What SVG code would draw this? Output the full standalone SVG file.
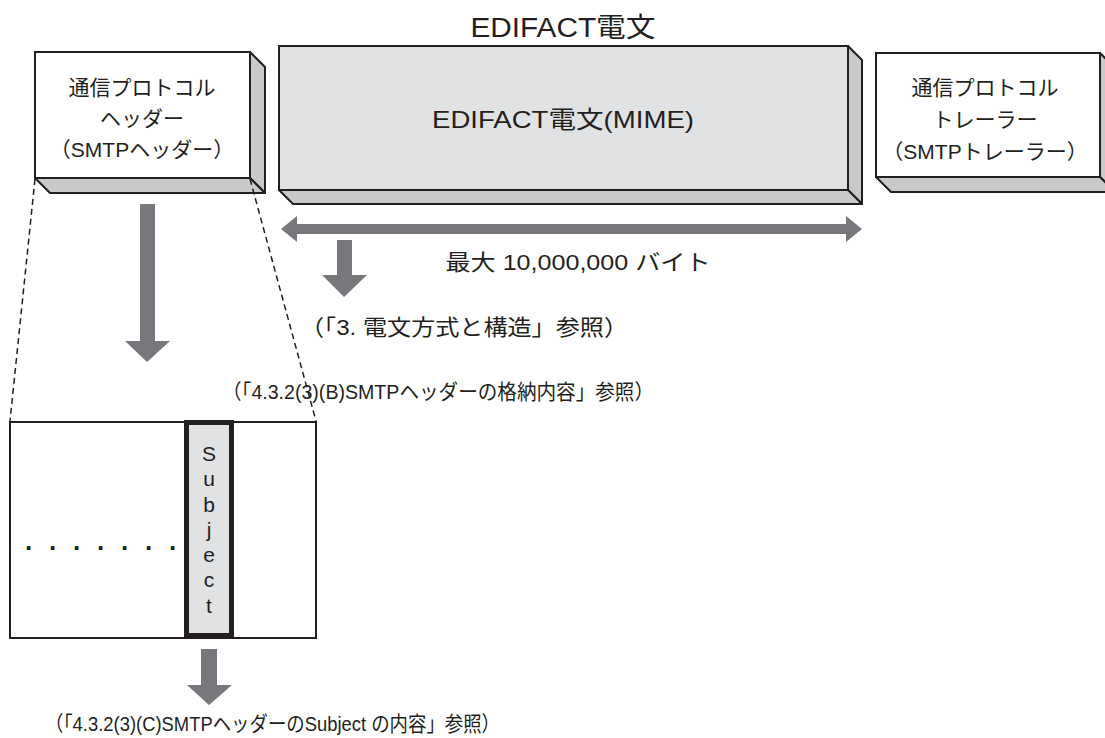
<svg xmlns="http://www.w3.org/2000/svg" width="1105" height="738" viewBox="0 0 1105 738">
<style>
.front{fill:#ffffff;stroke:#231f20;stroke-width:2}
.gfront{fill:#e1e2e4;stroke:#231f20;stroke-width:2}
.side{fill:#c8c9cb;stroke:#231f20;stroke-width:2;stroke-linejoin:round}
.arrow{fill:#77787b}
.dash{fill:none;stroke:#231f20;stroke-width:1.5;stroke-dasharray:6 4}
.t{font-family:"Liberation Sans","Noto Sans CJK JP",sans-serif;font-size:21px;fill:#231f20;text-anchor:middle}
.c{font-family:"Liberation Sans","Noto Sans CJK JP",sans-serif;fill:#231f20}
</style>
<rect width="1105" height="738" fill="#ffffff"/>
<g id="title"><text class="c" x="563" y="37" font-size="27" text-anchor="middle" textLength="185" lengthAdjust="spacingAndGlyphs">EDIFACT電文</text></g>
<g id="header-box">
<polygon class="side" points="250,52 265,67 265,193 250,178"/>
<polygon class="side" points="35,178 250,178 265,193 50,193"/>
<rect class="front" x="35" y="52" width="215" height="126"/>
<text class="t" x="142" y="95">通信プロトコル</text>
<text class="t" x="142" y="126">ヘッダー</text>
<text class="t" x="142" y="157">（SMTPヘッダー）</text>
</g>
<g id="mime-box">
<polygon class="side" points="848,46 862,60 862,204 848,190"/>
<polygon class="side" points="279,190 848,190 862,204 293,204"/>
<rect class="gfront" x="279" y="46" width="569" height="144"/>
<text class="c" x="563" y="128" font-size="24" text-anchor="middle" textLength="262" lengthAdjust="spacingAndGlyphs">EDIFACT電文(MIME)</text>
</g>
<g id="trailer-box">
<polygon class="side" points="1100,53 1115,68 1115,192 1100,177"/>
<polygon class="side" points="876,177 1100,177 1115,192 891,192"/>
<rect class="front" x="876" y="53" width="224" height="124"/>
<text class="t" x="985" y="95">通信プロトコル</text>
<text class="t" x="985" y="127">トレーラー</text>
<text class="t" x="985" y="159">（SMTPトレーラー）</text>
</g>
<g id="size-label">
<text class="c" x="578" y="270" font-size="22" text-anchor="middle" textLength="265" lengthAdjust="spacingAndGlyphs">最大 10,000,000 バイト</text>
</g>
<g id="ref-3"><text class="c" x="300" y="335" font-size="22" textLength="328" lengthAdjust="spacingAndGlyphs">（「3. 電文方式と構造」参照）</text></g>
<g id="ref-b"><text class="c" x="222" y="399" font-size="21" textLength="432" lengthAdjust="spacingAndGlyphs">（「4.3.2(3)(B)SMTPヘッダーの格納内容」参照）</text></g>
<g id="header-detail">
<rect class="front" x="10" y="422" width="306" height="216"/>
<rect x="186.5" y="422.5" width="45" height="213" fill="#e1e2e4" stroke="#231f20" stroke-width="5"/>
<text class="c" font-size="26" font-weight="bold" x="25 49 73 97 121 145 169" y="550">.......</text>
<g class="t" font-size="22">
<text x="209" y="461">S</text>
<text x="209" y="486">u</text>
<text x="209" y="512">b</text>
<text x="209" y="537">j</text>
<text x="209" y="562">e</text>
<text x="209" y="587">c</text>
<text x="209" y="613">t</text>
</g>
</g>
<g id="ref-c"><text class="c" x="45" y="731" font-size="21" textLength="455" lengthAdjust="spacingAndGlyphs">（「4.3.2(3)(C)SMTPヘッダーのSubject の内容」参照）</text></g>
<g id="connectors">
<line class="dash" x1="35" y1="179" x2="10" y2="421"/>
<line class="dash" x1="250" y1="179" x2="316" y2="421"/>
<polygon class="arrow" points="281,229 297,216 297,224 846,224 846,216 862,229 846,242 846,234 297,234 297,242"/>
<polygon class="arrow" points="337,240 352,240 352,275 367,275 344,297 322,275 337,275"/>
<polygon class="arrow" points="140,204 155,204 155,341 170,341 147,362 125,341 140,341"/>
<polygon class="arrow" points="201,649 217,649 217,685 232,685 209,705 187,685 201,685"/>
</g>
</svg>
